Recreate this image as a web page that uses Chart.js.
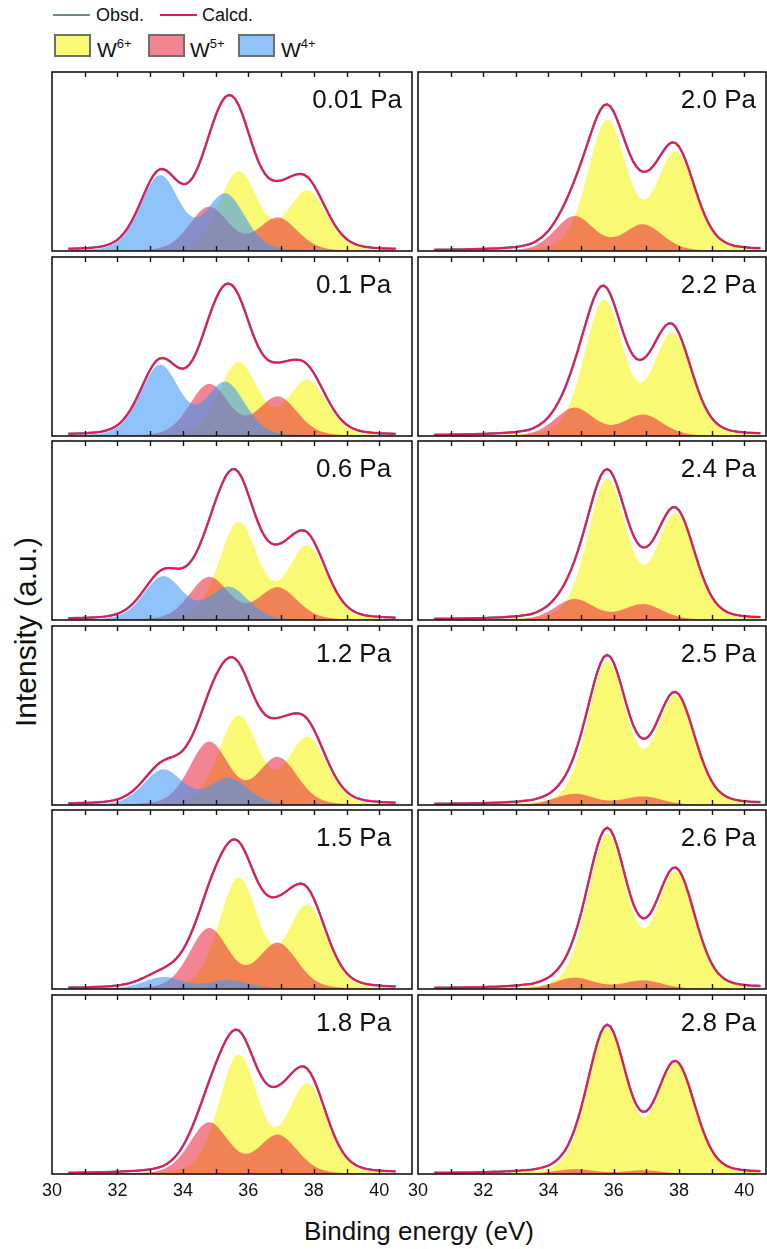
<!DOCTYPE html>
<html>
<head>
<meta charset="utf-8">
<script src="https://cdn.jsdelivr.net/npm/chart.js@4.4.1/dist/chart.umd.min.js"></script>
<style>
  body { margin: 0; background: #fff; width: 767px; height: 1249px; overflow: hidden; position: relative;
         font-family: "Liberation Sans", Arial, sans-serif; color: #111; }
  canvas { position: absolute; }
  .txt { position: absolute; line-height: 1; white-space: nowrap; }
  .leg-line { position: absolute; height: 2px; }
  .leg-box { position: absolute; width: 33px; height: 19px; border: 2px solid #6e6e6e; }
  .sup { font-size: 13px; vertical-align: 9px; }
</style>
</head>
<body>

<!-- legend -->
<div class="leg-line" style="left:53px;top:14px;width:37px;background:#6a8992"></div>
<div class="txt" style="left:96px;top:6px;font-size:18px">Obsd.</div>
<div class="leg-line" style="left:160px;top:14px;width:37px;background:#e8175d"></div>
<div class="txt" style="left:202px;top:6px;font-size:18px">Calcd.</div>

<div class="leg-box" id="box-w6" style="left:54px;top:34px"></div>
<div class="txt" style="left:97px;top:37px;font-size:21px">W<span class="sup">6+</span></div>
<div class="leg-box" id="box-w5" style="left:148px;top:34px"></div>
<div class="txt" style="left:190px;top:37px;font-size:21px">W<span class="sup">5+</span></div>
<div class="leg-box" id="box-w4" style="left:238px;top:34px"></div>
<div class="txt" style="left:281px;top:37px;font-size:21px">W<span class="sup">4+</span></div>

<!-- axis titles -->
<div class="txt" style="left:219px;width:400px;text-align:center;top:1218px;font-size:26px">Binding energy (eV)</div>
<div class="txt" style="left:-124px;width:300px;text-align:center;top:617px;font-size:30px;transform:rotate(-90deg)">Intensity (a.u.)</div>

<script>
// ---- data ----
var pressures = ['0.01 Pa', '0.1 Pa', '0.6 Pa', '1.2 Pa', '1.5 Pa', '1.8 Pa',
                 '2.0 Pa', '2.2 Pa', '2.4 Pa', '2.5 Pa', '2.6 Pa', '2.8 Pa'];

// 4f7/2 peak heights (fraction of panel height)
var w6Amp = [0.440, 0.408, 0.542, 0.495, 0.614, 0.658, 0.721, 0.751, 0.776, 0.793, 0.854, 0.803];
var w5Amp = [0.244, 0.287, 0.238, 0.349, 0.336, 0.285, 0.193, 0.156, 0.116, 0.062, 0.063, 0.027];
var w4Amp = [0.417, 0.392, 0.241, 0.196, 0.066, 0, 0, 0, 0, 0, 0, 0];

// 4f7/2 binding energies (eV)
var w6Pos = [35.7, 35.7, 35.7, 35.7, 35.7, 35.7, 35.8, 35.7, 35.8, 35.8, 35.8, 35.8];
var w5Pos = [34.8, 34.8, 34.8, 34.8, 34.8, 34.8, 34.8, 34.8, 34.8, 34.8, 34.8, 34.8];
var w4Pos = [33.3, 33.3, 33.4, 33.4, 33.4, 33.4, 33.4, 33.4, 33.4, 33.4, 33.4, 33.4];

// 4f7/2 - 4f5/2 splitting (eV) and 4f5/2 : 4f7/2 ratio
var splitW6 = 2.1, splitW5 = 2.1, splitW4 = 2.0;
var doubletRatio = 0.75;

// single-line profile, read at 0.1 eV steps away from the peak
var lineShape = [1, 0.985, 0.941, 0.873, 0.789, 0.694, 0.596, 0.500, 0.410, 0.330,
                 0.260, 0.202, 0.155, 0.118, 0.090, 0.069, 0.054, 0.042, 0.034, 0.029,
                 0.025, 0.022, 0.019, 0.017, 0.016, 0.015, 0.014, 0.013, 0.012, 0.011,
                 0.010, 0.009, 0.008, 0.007, 0.006, 0.006, 0.005, 0.004, 0.004, 0.003,
                 0.003, 0.002, 0.002, 0.002, 0.001, 0.001, 0.001, 0.001, 0, 0, 0];

var bgLevel = [0.007, 0.007, 0.007, 0.007, 0.007, 0.007, 0.007, 0.007, 0.007, 0.007, 0.007, 0.007];

var energyStart = 30.5, energyStep = 0.1, energyCount = 101;
var minorTicks = [31, 32, 33, 34, 35, 36, 37, 38, 39, 40];
var tickLabels = [30, 32, 34, 36, 38, 40];

// ---- styles ----
var C_W6 = 'rgb(250,249,115)';
var C_W5 = 'rgba(232,40,62,0.57)';
var C_W4 = 'rgba(60,150,245,0.58)';
var C_CALC = '#e8175d';
var C_OBS = '#6a8992';
var FONT = '"Liberation Sans", Arial, sans-serif';
var PAD = 14;

document.getElementById('box-w6').style.background = C_W6;
document.getElementById('box-w5').style.background = C_W5;
document.getElementById('box-w4').style.background = C_W4;

var energies = [];
for (var k = 0; k < energyCount; k++) energies.push(+(energyStart + k * energyStep).toFixed(1));

function doublet(amp, pos, split) {
  var c = Math.round((pos - energyStart) / energyStep);
  var s = Math.round(split / energyStep);
  return energies.map(function(e, k) {
    var a = lineShape[Math.abs(k - c)] || 0;
    var b = lineShape[Math.abs(k - c - s)] || 0;
    return amp * (a + doubletRatio * b);
  });
}

function pts(vals) {
  return vals.map(function(v, k) { return { x: energies[k], y: v }; });
}

var framePlugin = {
  id: 'frame',
  afterDraw: function(chart, args, opts) {
    var ctx = chart.ctx, a = chart.chartArea, x = chart.scales.x;
    ctx.save();
    ctx.strokeStyle = '#151515';
    ctx.lineWidth = 1.6;
    ctx.strokeRect(a.left, a.top, a.right - a.left, a.bottom - a.top);
    ctx.lineWidth = 1.4;
    ctx.beginPath();
    minorTicks.forEach(function(v) {
      var px = Math.round(x.getPixelForValue(v)) + 0.5;
      if (px <= a.left + 2 || px >= a.right - 2) return;
      ctx.moveTo(px, a.top); ctx.lineTo(px, a.top + 5);
      ctx.moveTo(px, a.bottom); ctx.lineTo(px, a.bottom - 5);
    });
    ctx.stroke();

    ctx.fillStyle = '#111';
    ctx.font = '26px ' + FONT;
    var w = ctx.measureText(opts.label).width;
    ctx.fillText(opts.label, Math.min(a.left + 264, a.right - 10 - w), a.top + 36);

    if (opts.bottom) {
      ctx.font = '18px ' + FONT;
      ctx.textAlign = 'center';
      ctx.textBaseline = 'alphabetic';
      tickLabels.forEach(function(v) {
        ctx.fillText(String(v), x.getPixelForValue(v), a.bottom + 22);
      });
    }
    ctx.restore();
  }
};

pressures.forEach(function(label, p) {
  var col = p < 6 ? 0 : 1, row = p % 6;
  var left = col ? 418 : 52, width = col ? 348 : 360;
  var top = 72 + Math.round(184.6 * row), height = 179;
  var extra = row === 5 ? 30 : 0;

  var cv = document.createElement('canvas');
  cv.width = width + 2 * PAD; cv.height = height + 8 + extra;
  cv.style.left = (left - PAD) + 'px'; cv.style.top = (top - 4) + 'px';
  document.body.appendChild(cv);

  var w6 = doublet(w6Amp[p], w6Pos[p], splitW6);
  var w5 = doublet(w5Amp[p], w5Pos[p], splitW5);
  var w4 = doublet(w4Amp[p], w4Pos[p], splitW4);
  var calcd = energies.map(function(e, k) { return w6[k] + w5[k] + w4[k] + bgLevel[p]; });

  var comp = function(lbl, vals, color, order) {
    return { label: lbl, data: pts(vals), backgroundColor: color, borderColor: 'rgba(0,0,0,0)',
             borderWidth: 0, fill: 'origin', pointRadius: 0, tension: 0, order: order };
  };

  new Chart(cv, {
    type: 'line',
    data: {
      datasets: [
        { label: 'Calcd.', data: pts(calcd), borderColor: C_CALC, borderWidth: 2, fill: false,
          pointRadius: 0, tension: 0, order: 0 },
        { label: 'Obsd.', data: pts(calcd), borderColor: C_OBS, borderWidth: 2.4, fill: false,
          pointRadius: 0, tension: 0, order: 1 },
        comp('W4+', w4, C_W4, 2),
        comp('W5+', w5, C_W5, 3),
        comp('W6+', w6, C_W6, 4)
      ]
    },
    options: {
      responsive: false,
      animation: false,
      devicePixelRatio: 1,
      layout: { padding: { left: PAD, right: PAD, top: 4, bottom: 4 + extra } },
      scales: {
        x: { type: 'linear', min: 30, max: col ? 40.67 : 41, display: false },
        y: { min: 0, max: 1, display: false }
      },
      plugins: {
        legend: { display: false },
        tooltip: { enabled: false },
        frame: { label: label, bottom: row === 5 }
      }
    },
    plugins: [framePlugin]
  });
});
</script>
</body>
</html>
